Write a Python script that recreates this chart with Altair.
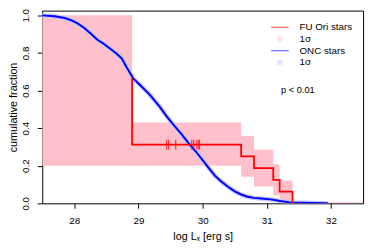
import altair as alt
import pandas as pd

FONT = "Liberation Sans"

# ONC stars cumulative fraction
onc_x = [27.49, 27.69, 27.85, 27.95, 28.05, 28.15, 28.25, 28.36, 28.46, 28.56, 28.66, 28.74,
         28.81, 28.92, 29.02, 29.17, 29.33, 29.43, 29.53, 29.66, 29.78, 29.89, 29.99, 30.09,
         30.19, 30.29, 30.40, 30.50, 30.60, 30.70, 30.80, 30.91, 31.06, 31.21, 31.36, 31.52,
         31.72, 31.95]
onc_y = [1.0, 0.995, 0.986, 0.974, 0.957, 0.934, 0.905, 0.870, 0.848, 0.822, 0.796, 0.770,
         0.727, 0.663, 0.631, 0.580, 0.514, 0.467, 0.424, 0.372, 0.320, 0.277, 0.234, 0.190,
         0.147, 0.116, 0.087, 0.064, 0.047, 0.035, 0.029, 0.026, 0.021, 0.012, 0.005, 0.003,
         0.002, 0.0]

# FU Ori stars 1-sigma band
band_x0 = [27.5, 28.9, 30.6, 30.8, 31.1, 31.2, 31.4]
band_x1 = [28.9, 30.6, 30.8, 31.1, 31.2, 31.4, 32.5]
band_lo = [0.2, 0.2, 0.142, 0.09, 0.043, 0.0, 0.0]
band_hi = [1.0, 0.43, 0.358, 0.285, 0.208, 0.121, 0.006]

# FU Ori stars step curve
red_x = [28.9, 28.9, 30.6, 30.8, 31.1, 31.2, 31.4]
red_y = [0.665, 0.3125, 0.25, 0.1875, 0.125, 0.0625, 0.0]

# censored points
cens_x = [29.44, 29.47, 29.58, 29.83, 29.86, 29.91, 29.94, 29.95]
cens_y = [0.3125] * len(cens_x)

legend_labels = ["FU Ori stars", "1σ ", "ONC stars", "1σ"]
legend_shapes = ["M-2.25,0H2.25", "M-0.6,-0.6H0.6V0.6H-0.6Z", "M-2.25,0H2.25", "M-0.6,-0.6H0.6V0.6H-0.6Z"]
legend_fill = ["transparent", "#ffc0cb", "transparent", "#c4c4ff"]
legend_stroke = ["#ff0000", "transparent", "#0000ff", "transparent"]

x_ticks = [28, 29, 30, 31, 32]
y_ticks = [0.0, 0.2, 0.4, 0.6, 0.8, 1.0]

xs = alt.Scale(domain=[27.5, 32.5], nice=False, zero=False)
ys = alt.Scale(domain=[0, 1.025], nice=False, zero=False)

xaxis = alt.Axis(values=x_ticks, format="d", title="log Lₓ [erg s]", grid=False, domain=False,
                 tickSize=5, tickColor="black", labelColor="black", labelFont=FONT,
                 labelFontSize=10, labelPadding=8, labelOverlap=False, titleFont=FONT,
                 titleFontSize=11, titleFontWeight="normal", titleColor="black",
                 titleBaseline="alphabetic", titleY=37)
yaxis = alt.Axis(values=y_ticks, format=".1f", title="cumulative fraction", grid=False,
                 domain=False, tickSize=5, tickColor="black", labelColor="black",
                 labelFont=FONT, labelFontSize=10, labelAngle=-90, labelAlign="center",
                 labelBaseline="alphabetic", labelPadding=9, labelOverlap=False,
                 titleFont=FONT, titleFontSize=11, titleFontWeight="normal",
                 titleColor="black", titleBaseline="alphabetic", titleX=-26)


def X(f):
    return alt.X(f, scale=xs, axis=xaxis)


def Y(f):
    return alt.Y(f, scale=ys, axis=yaxis)


band_df = pd.DataFrame({"x0": band_x0, "x1": band_x1, "lo": band_lo, "hi": band_hi})
onc_df = pd.DataFrame({"x": onc_x, "y": onc_y, "i": range(len(onc_x))})
red_df = pd.DataFrame({"x": red_x, "y": red_y, "i": range(len(red_x))})
cens_df = pd.DataFrame({"x": cens_x, "y": cens_y})
leg_df = pd.DataFrame({"x": [100.0] * 4, "y": [0.5] * 4, "label": legend_labels})
txt_df = pd.DataFrame({"x": [31.22], "y": [0.6], "t": ["p < 0.01"]})

band = alt.Chart(band_df).mark_rect(color="#ffc0cb", clip=True).encode(
    x=X("x0:Q"), x2="x1:Q", y=Y("lo:Q"), y2="hi:Q")

onc_halo = alt.Chart(onc_df).mark_line(color="#c4c4ff", strokeWidth=4.5, clip=True).encode(
    x=X("x:Q"), y=Y("y:Q"), order="i:Q")
onc = alt.Chart(onc_df).mark_line(color="#0000ff", strokeWidth=2, clip=True).encode(
    x=X("x:Q"), y=Y("y:Q"), order="i:Q")

red = alt.Chart(red_df).mark_line(color="#ff0000", strokeWidth=1.8, interpolate="step-after",
                                  clip=True).encode(
    x=X("x:Q"), y=Y("y:Q"), order="i:Q")

cens = alt.Chart(cens_df).mark_tick(color="#ff0000", orient="vertical", size=10,
                                    thickness=1.3, clip=True).encode(
    x=X("x:Q"), y=Y("y:Q"))

ptxt = alt.Chart(txt_df).mark_text(align="left", baseline="middle", font=FONT, fontSize=9.5,
                                   color="black").encode(
    x=X("x:Q"), y=Y("y:Q"), text="t:N")

legend = alt.Legend(title=None, orient="none", legendX=238, legendY=12, padding=0,
                    labelFont=FONT, labelFontSize=10, labelColor="black", labelOffset=15,
                    symbolSize=64, symbolStrokeWidth=1, rowPadding=2)
leg = alt.Chart(leg_df).mark_point(filled=True, clip=True).encode(
    x=X("x:Q"), y=Y("y:Q"),
    fill=alt.Fill("label:N", scale=alt.Scale(domain=legend_labels, range=legend_fill), legend=legend),
    stroke=alt.Stroke("label:N", scale=alt.Scale(domain=legend_labels, range=legend_stroke), legend=legend),
    shape=alt.Shape("label:N", scale=alt.Scale(domain=legend_labels, range=legend_shapes), legend=legend))

chart = alt.layer(band, onc_halo, onc, red, cens, ptxt, leg).properties(
    width=328, height=197,
    autosize=alt.AutoSizeParams(type="none"),
    padding={"left": 35, "top": 0, "right": 3, "bottom": 44},
).configure_view(stroke="black", strokeWidth=1)

chart.save("out.html", embed_options={"renderer": "svg", "actions": False})
